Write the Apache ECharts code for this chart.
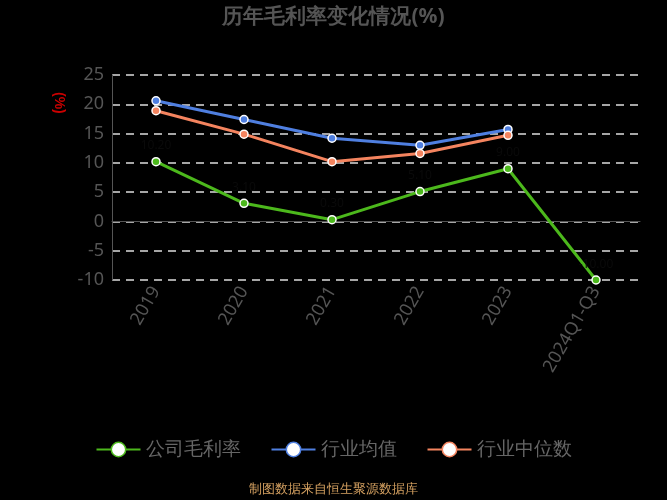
<!DOCTYPE html>
<html>
<head>
<meta charset="utf-8">
<script src="https://cdn.jsdelivr.net/npm/echarts@6/dist/echarts.min.js"></script>
<style>html,body{margin:0;background:#000;}#main{width:667px;height:500px;}</style>
</head>
<body>
<div id="main"></div>
<script>
var years = ['2019', '2020', '2021', '2022', '2023', '2024Q1-Q3'];
var companyMargin = [10.2, 3.1, 0.3, 5.1, 9.0, -10.0];
var industryAvg = [20.6, 17.4, 14.2, 13.0, 15.7, null];
var industryMedian = [18.9, 14.9, 10.2, 11.6, 14.7, null];

function line(name, data, color) {
    return {
        name: name,
        type: 'line',
        data: data,
        symbol: 'circle',
        symbolSize: 8,
        lineStyle: {color: color, width: 3},
        itemStyle: {color: color, borderColor: '#fff', borderWidth: 1.5},
        label: {show: name === '公司毛利率', color: '#0a0a0a', fontSize: 12,
            formatter: function (p) { return p.value.toFixed(2); }}
    };
}

var chart = echarts.init(document.getElementById('main'));
chart.setOption({
    backgroundColor: '#000',
    animation: false,
    textStyle: {fontFamily: 'Noto Sans, sans-serif'},
    title: {text: '历年毛利率变化情况(%)', left: 'center', top: 2,
        textStyle: {color: '#555', fontSize: 21, fontWeight: 'bold'}},
    grid: {left: 112, right: 27, top: 75, bottom: 220},
    legend: {bottom: 36, itemGap: 30, itemWidth: 44, itemHeight: 18,
        textStyle: {color: '#666', fontSize: 19},
        data: [
            {name: '公司毛利率', itemStyle: {color: '#fff', borderColor: '#4cb81c', borderWidth: 1.5}},
            {name: '行业均值', itemStyle: {color: '#fff', borderColor: '#4f7fe0', borderWidth: 1.5}},
            {name: '行业中位数', itemStyle: {color: '#fff', borderColor: '#f4845f', borderWidth: 1.5}}
        ]},
    xAxis: {type: 'category', data: years,
        axisLine: {onZero: true, lineStyle: {color: '#555'}},
        axisTick: {lineStyle: {color: '#555'}},
        axisLabel: {color: '#555', fontSize: 18, rotate: 60, interval: 0}},
    yAxis: {type: 'value', min: -10, max: 25, interval: 5,
        axisLine: {show: true, lineStyle: {color: '#555'}},
        axisLabel: {color: '#555', fontSize: 18},
        splitLine: {lineStyle: {color: '#ddd', type: [8, 6], width: 1.5}}},
    series: [
        line('公司毛利率', companyMargin, '#4cb81c'),
        line('行业均值', industryAvg, '#4f7fe0'),
        line('行业中位数', industryMedian, '#f4845f')
    ],
    graphic: [
        {type: 'text', left: 52, top: 92, rotation: -Math.PI / 2,
            style: {text: '(%)', fill: '#c00', fontSize: 14, fontWeight: 'bold'}},
        {type: 'text', left: 'center', top: 483,
            style: {text: '制图数据来自恒生聚源数据库', fill: '#d4a060', fontSize: 13}}
    ]
});
</script>
</body>
</html>
